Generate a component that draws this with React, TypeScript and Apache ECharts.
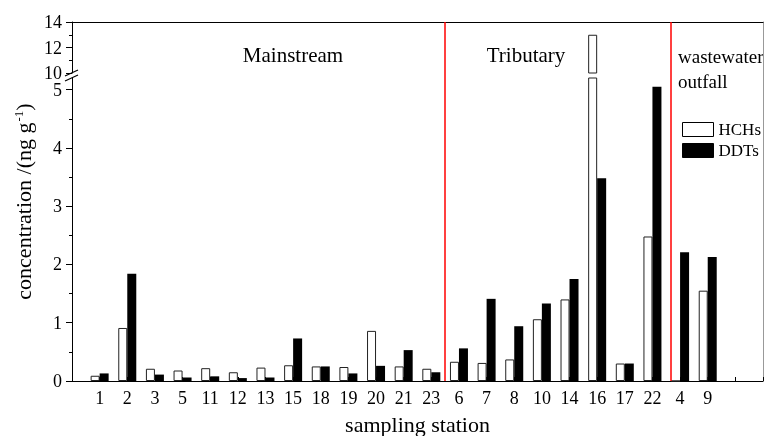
import { useEffect, useRef } from 'react';
import * as echarts from 'echarts';

const stations = ['1', '2', '3', '5', '11', '12', '13', '15', '18', '19', '20', '21', '23', '6', '7', '8', '10', '14', '16', '17', '22', '4', '9'];
const hchs = [0.09, 0.91, 0.21, 0.18, 0.22, 0.15, 0.23, 0.27, 0.25, 0.24, 0.86, 0.25, 0.21, 0.33, 0.31, 0.37, 1.06, 1.40, 13.0, 0.30, 2.48, 0, 1.55];
const ddts = [0.13, 1.84, 0.11, 0.06, 0.08, 0.05, 0.06, 0.73, 0.25, 0.13, 0.26, 0.53, 0.15, 0.56, 1.41, 0.94, 1.33, 1.75, 3.48, 0.30, 5.05, 2.21, 2.13];
const groupBounds = [13.5, 21.65];
const groupLabels = ['Mainstream', 'Tributary', 'wastewater\noutfall'];
const lowerTicks = [0, 1, 2, 3, 4, 5];
const upperTicks = [10, 12, 14];
const lowerRange = [0, 5.2];
const upperRange = [10, 14];
const xRange = [0, 25];

const FONT = '"Liberation Serif", "Times New Roman", serif';

export default function App() {
  const ref = useRef<HTMLDivElement>(null);
  useEffect(() => {
    if (!ref.current) return;
    const chart = echarts.init(ref.current, null, { renderer: 'svg' });
    const pair = (arr: number[]) => arr.map((v, i) => [i + 1, v]);
    const hchStyle = { color: '#fff', borderColor: '#222', borderWidth: 1 };
    const ddtStyle = { color: '#000' };
    const axisBase = {
      axisLine: { show: true, onZero: false, lineStyle: { color: '#000', width: 1 } },
      splitLine: { show: false },
    };
    const gridBase = { left: 72, right: 1, outerBoundsMode: 'none', containLabel: false };
    const option: any = {
      animation: false,
      textStyle: { fontFamily: FONT, color: '#000' },
      grid: [
        { ...gridBase, top: 78, bottom: 55 },
        { ...gridBase, top: 22, height: 51 },
        { ...gridBase, top: 22, bottom: 55 },
      ],
      xAxis: [
        {
          ...axisBase,
          gridIndex: 0,
          type: 'value',
          min: xRange[0],
          max: xRange[1],
          interval: 1,
          axisTick: { show: true, inside: true, length: 4, lineStyle: { color: '#000' } },
          axisLabel: {
            formatter: (v: number) => stations[v - 1] ?? '',
            fontSize: 18,
            color: '#000',
            margin: 8,
            fontFamily: FONT,
          },
          name: 'sampling station',
          nameLocation: 'middle',
          nameGap: 32,
          nameTextStyle: { fontSize: 22, fontFamily: FONT, color: '#000' },
        },
        { gridIndex: 1, type: 'value', min: xRange[0], max: xRange[1], show: false },
        {
          ...axisBase,
          gridIndex: 2,
          type: 'value',
          min: xRange[0],
          max: xRange[1],
          position: 'top',
          axisTick: { show: false },
          axisLabel: { show: false },
        },
      ],
      yAxis: [
        {
          ...axisBase,
          gridIndex: 0,
          type: 'value',
          min: lowerRange[0],
          max: lowerRange[1],
          interval: 1,
          axisTick: { show: true, length: 6, customValues: lowerTicks, lineStyle: { color: '#000' } },
          minorTick: { show: true, splitNumber: 2, length: 3, lineStyle: { color: '#000' } },
          axisLabel: { customValues: lowerTicks, fontSize: 18, lineHeight: 14, color: '#000', margin: 10, fontFamily: FONT },
        },
        {
          ...axisBase,
          gridIndex: 1,
          type: 'value',
          min: upperRange[0],
          max: upperRange[1],
          interval: 2,
          axisTick: { show: true, length: 6, customValues: upperTicks, lineStyle: { color: '#000' } },
          minorTick: { show: true, splitNumber: 2, length: 3, lineStyle: { color: '#000' } },
          axisLabel: { customValues: upperTicks, fontSize: 18, lineHeight: 14, color: '#000', margin: 10, fontFamily: FONT },
        },
        {
          gridIndex: 2,
          type: 'value',
          min: 0,
          max: 1,
          position: 'right',
          axisLine: { show: true, onZero: false, lineStyle: { color: '#999', width: 1 } },
          axisTick: { show: false },
          axisLabel: { show: false },
          splitLine: { show: false },
        },
        {
          gridIndex: 2,
          type: 'value',
          min: 0,
          max: 1,
          position: 'left',
          axisLine: { show: false },
          axisTick: { show: false },
          axisLabel: { show: false },
          splitLine: { show: false },
          name: 'concentration /(ng g{sup|-1})',
          nameLocation: 'middle',
          nameGap: 38,
          nameTextStyle: {
            fontSize: 22,
            fontFamily: FONT,
            color: '#000',
            rich: {
              sup: { fontSize: 13, fontFamily: FONT, color: '#000', verticalAlign: 'top', lineHeight: 13, padding: [0, 0, 0, 1] },
            },
          },
        },
      ],
      legend: {
        data: ['HCHs', 'DDTs'],
        orient: 'vertical',
        left: 682,
        top: 121,
        padding: 0,
        itemWidth: 31,
        itemHeight: 14,
        itemGap: 4,
        icon: 'rect',
        itemStyle: { borderColor: '#000', borderWidth: 1 },
        textStyle: { fontSize: 17, fontFamily: FONT, color: '#000' },
      },
      graphic: [
        { type: 'text', x: 293, y: 55, style: { text: groupLabels[0], fill: '#000', fontSize: 21, fontFamily: FONT, textAlign: 'center', textVerticalAlign: 'middle' } },
        { type: 'text', x: 526, y: 55, style: { text: groupLabels[1], fill: '#000', fontSize: 21, fontFamily: FONT, textAlign: 'center', textVerticalAlign: 'middle' } },
        { type: 'text', x: 678, y: 68.5, style: { text: groupLabels[2], fill: '#000', fontSize: 19, lineHeight: 25, fontFamily: FONT, textAlign: 'left', textVerticalAlign: 'middle' } },
        { type: 'line', shape: { x1: 65, y1: 76, x2: 78, y2: 70 }, style: { stroke: '#000', lineWidth: 1.2 } },
        { type: 'line', shape: { x1: 65, y1: 81, x2: 78, y2: 75 }, style: { stroke: '#000', lineWidth: 1.2 } },
      ],
      series: [
        { type: 'bar', name: 'HCHs', xAxisIndex: 0, yAxisIndex: 0, data: pair(hchs), barWidth: 9, barGap: '0%', itemStyle: hchStyle, clip: true },
        { type: 'bar', name: 'DDTs', xAxisIndex: 0, yAxisIndex: 0, data: pair(ddts), barWidth: 9, barGap: '0%', itemStyle: ddtStyle, clip: true },
        { type: 'bar', name: 'HCHs', xAxisIndex: 1, yAxisIndex: 1, data: pair(hchs).filter((d) => d[1] > upperRange[0]), barWidth: 9, barGap: '0%', itemStyle: hchStyle, clip: true },
        { type: 'bar', name: 'DDTs', xAxisIndex: 1, yAxisIndex: 1, data: pair(ddts).filter((d) => d[1] > upperRange[0]), barWidth: 9, barGap: '0%', itemStyle: ddtStyle, clip: true },
        {
          type: 'line',
          xAxisIndex: 2,
          yAxisIndex: 2,
          data: [],
          markLine: {
            silent: true,
            symbol: 'none',
            label: { show: false },
            lineStyle: { color: '#ff0000', type: 'solid', width: 1.5 },
            data: groupBounds.map((b) => ({ xAxis: b })),
          },
        },
      ],
    };
    chart.setOption(option);
    return () => chart.dispose();
  }, []);
  return <div ref={ref} style={{ position: 'fixed', left: 0, top: 0, width: 764, height: 436 }} />;
}
